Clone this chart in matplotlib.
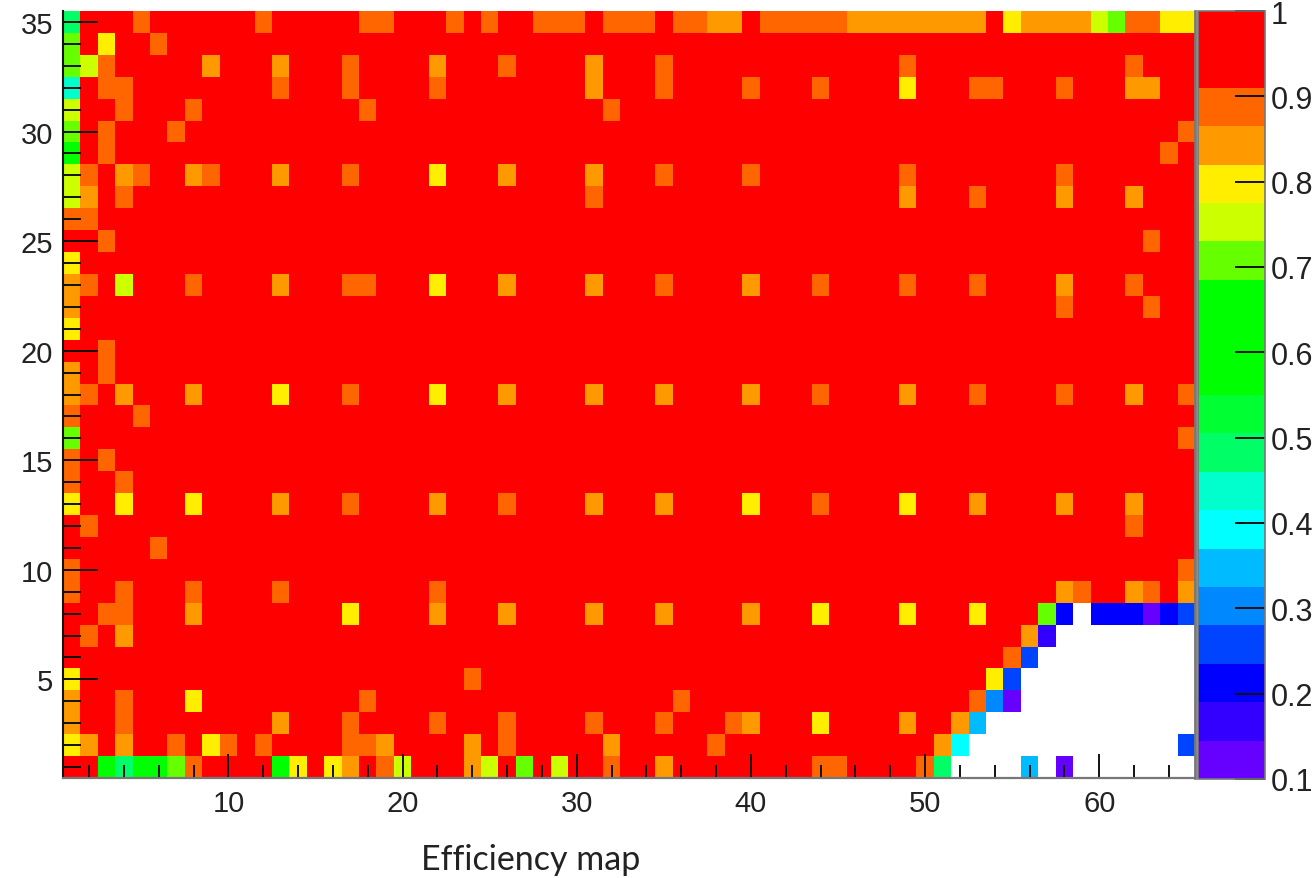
import numpy as np
import matplotlib
matplotlib.use("Agg")
import matplotlib.pyplot as plt
from matplotlib.colors import ListedColormap, BoundaryNorm

# Efficiency, one table per colour band: {row: [columns]}
# everything not listed is in the top (red) band
default_eff = 0.97

eff_089 = {
    35: [5, 12, 18, 19, 23, 25, 28, 29, 30, 32, 33, 34, 36, 37, 41, 42, 43, 44, 45, 62, 63],
    34: [6],
    33: [3, 17, 26, 35, 49, 62],
    32: [3, 4, 13, 17, 22, 35, 40, 44, 53, 54, 58],
    31: [4, 8, 18, 32],
    30: [3, 7, 65],
    29: [3, 64],
    28: [2, 5, 9, 17, 35, 40, 49, 58],
    27: [4, 31, 53],
    26: [1, 2],
    25: [3, 63],
    23: [2, 8, 17, 18, 35, 44, 49, 53, 62],
    22: [58, 63],
    20: [3],
    19: [3],
    18: [2, 17, 44, 53, 58, 65],
    17: [1, 5],
    16: [65],
    15: [1, 3],
    14: [1, 4],
    13: [17, 26, 44],
    12: [2, 62],
    11: [6],
    10: [1, 65],
    9: [1, 4, 8, 13, 22, 59, 63],
    8: [3, 4],
    7: [2],
    6: [55],
    5: [24],
    4: [4, 18, 36, 53],
    3: [4, 17, 22, 26, 31, 35, 39],
    2: [7, 10, 12, 17, 18, 26, 38],
    1: [8, 19, 32, 44, 45, 50],
}
eff_084 = {
    35: [38, 39, 46, 47, 48, 49, 50, 51, 52, 53, 56, 57, 58, 59],
    33: [9, 13, 22, 31],
    32: [31, 62, 63],
    28: [4, 8, 13, 26, 31],
    27: [2, 49, 58, 62],
    23: [1, 13, 26, 31, 40, 58],
    22: [1],
    19: [1],
    18: [1, 4, 8, 26, 31, 35, 40, 49, 62],
    13: [13, 22, 31, 35, 53, 58, 62],
    9: [58, 62, 65],
    8: [8, 22, 26, 31, 35, 40],
    7: [4, 56],
    4: [1],
    3: [1, 13, 40, 49, 52],
    2: [2, 4, 19, 24, 32, 51],
    1: [17, 24, 35],
}
eff_080 = {
    35: [55, 64, 65],
    34: [3],
    32: [49],
    28: [22],
    24: [1],
    23: [22],
    21: [1],
    18: [13, 22],
    13: [1, 4, 8, 40, 49],
    8: [17, 44, 49, 53],
    5: [1, 54],
    4: [8],
    3: [44],
    2: [1, 9],
    1: [14, 16],
}
eff_075 = {
    35: [60],
    33: [2],
    31: [1],
    28: [1],
    27: [1],
    23: [4],
    1: [20, 25, 29],
}
eff_071 = {
    35: [61],
    34: [1],
    33: [1],
    30: [1],
    16: [1],
    8: [57],
    1: [7, 27],
}
eff_062 = {29: [1], 1: [3, 5, 6, 13]}
eff_048 = {35: [1], 1: [4, 51]}
eff_044 = {32: [1]}
eff_039 = {2: [52]}
eff_035 = {3: [53], 1: [56]}
eff_030 = {4: [54]}
eff_026 = {6: [56], 5: [55], 8: [65], 2: [65]}
eff_021 = {8: [58, 60, 61, 62, 64]}
eff_017 = {7: [57]}
eff_012 = {8: [63], 4: [55], 1: [58]}

# cells with no entry, left white
empty_cells = {
    8: [59],
    7: list(range(58, 66)),
    6: list(range(57, 66)),
    5: list(range(56, 66)),
    4: list(range(56, 66)),
    3: list(range(54, 66)),
    2: list(range(53, 65)),
    1: [52, 53, 54, 55, 57] + list(range(59, 66)),
}

bands = [(0.89, eff_089), (0.84, eff_084), (0.80, eff_080), (0.75, eff_075), (0.71, eff_071),
         (0.62, eff_062), (0.48, eff_048), (0.44, eff_044), (0.39, eff_039), (0.35, eff_035),
         (0.30, eff_030), (0.26, eff_026), (0.21, eff_021), (0.17, eff_017), (0.12, eff_012)]

n_cols = 65
n_rows = 35
grid = np.full((n_rows, n_cols), default_eff)
for val, table in bands:
    for row, cols in table.items():
        for col in cols:
            grid[row - 1, col - 1] = val
for row, cols in empty_cells.items():
    for col in cols:
        grid[row - 1, col - 1] = np.nan

# same palette as the ROOT rainbow with 20 contours
palette = ["#6600ff", "#3300ff", "#0000ff", "#0044ff", "#0088ff", "#00bbff", "#00ffff", "#00ffcc",
           "#00ff66", "#00ff33", "#00ff00", "#00ff00", "#00ff00", "#66ff00", "#ccff00", "#ffee00",
           "#ff9900", "#ff6600", "#ff0000", "#ff0000"]
levels = np.linspace(0.1, 1.0, 21)
cmap = ListedColormap(palette)
cmap.set_bad("white")
norm = BoundaryNorm(levels, cmap.N)

plt.rcParams["font.family"] = ["Liberation Sans", "DejaVu Sans"]

W, H = 1314, 879
fig = plt.figure(figsize=(W / 100, H / 100), dpi=100)
ax = fig.add_axes([63 / W, 1 - 779 / H, (1195 - 63) / W, (779 - 12) / H])
cax = fig.add_axes([1198 / W, 1 - 780 / H, (1265 - 1198) / W, (780 - 12) / H])

x_edges = np.arange(n_cols + 1) + 0.5
y_edges = np.arange(n_rows + 1) + 0.5
mesh = ax.pcolormesh(x_edges, y_edges, np.ma.masked_invalid(grid), cmap=cmap, norm=norm)

px = 0.72  # one pixel in points at dpi 100
ax.set_xlim(0.5, 65.5)
ax.set_ylim(0.5, 35.5)
ax.set_xticks(np.arange(10, 61, 10))
ax.set_xticks(np.arange(2, 65, 2), minor=True)
ax.set_yticks(np.arange(5, 36, 5))
ax.set_yticks(np.arange(1, 36), minor=True)
ax.tick_params(axis="x", which="major", direction="in", length=24 * px, width=1.4, color="#111111",
               labelsize=21, labelcolor="#222222", pad=8)
ax.tick_params(axis="x", which="minor", direction="in", length=13 * px, width=1.4, color="#111111")
ax.tick_params(axis="y", which="major", direction="in", length=35 * px, width=1.4, color="#111111",
               labelsize=21, labelcolor="#222222", pad=7)
ax.tick_params(axis="y", which="minor", direction="in", length=18 * px, width=1.4, color="#111111")
for side, colour, lw in [("left", "#111111", 1.5), ("bottom", "#777777", 1.6), ("right", "#777777", 2.0)]:
    ax.spines[side].set_color(colour)
    ax.spines[side].set_linewidth(lw)
ax.spines["top"].set_visible(False)

cb = fig.colorbar(mesh, cax=cax, spacing="proportional", ticks=np.arange(0.1, 1.01, 0.1))
cb.ax.set_yticklabels(["0.1", "0.2", "0.3", "0.4", "0.5", "0.6", "0.7", "0.8", "0.9", "1"])
cb.ax.minorticks_off()
cb.ax.tick_params(axis="y", direction="in", length=30 * px, width=1.4, color="#111111",
                  labelsize=22, labelcolor="#222222", pad=4)
cb.outline.set_edgecolor("#777777")
cb.outline.set_linewidth(1.2)

fig.text(531 / W, 1 - 860 / H, "Efficiency map", family=["Lato", "DejaVu Sans"], fontsize=24.5,
         color="#222222", ha="center", va="center")

fig.savefig("out.png", dpi=100)
